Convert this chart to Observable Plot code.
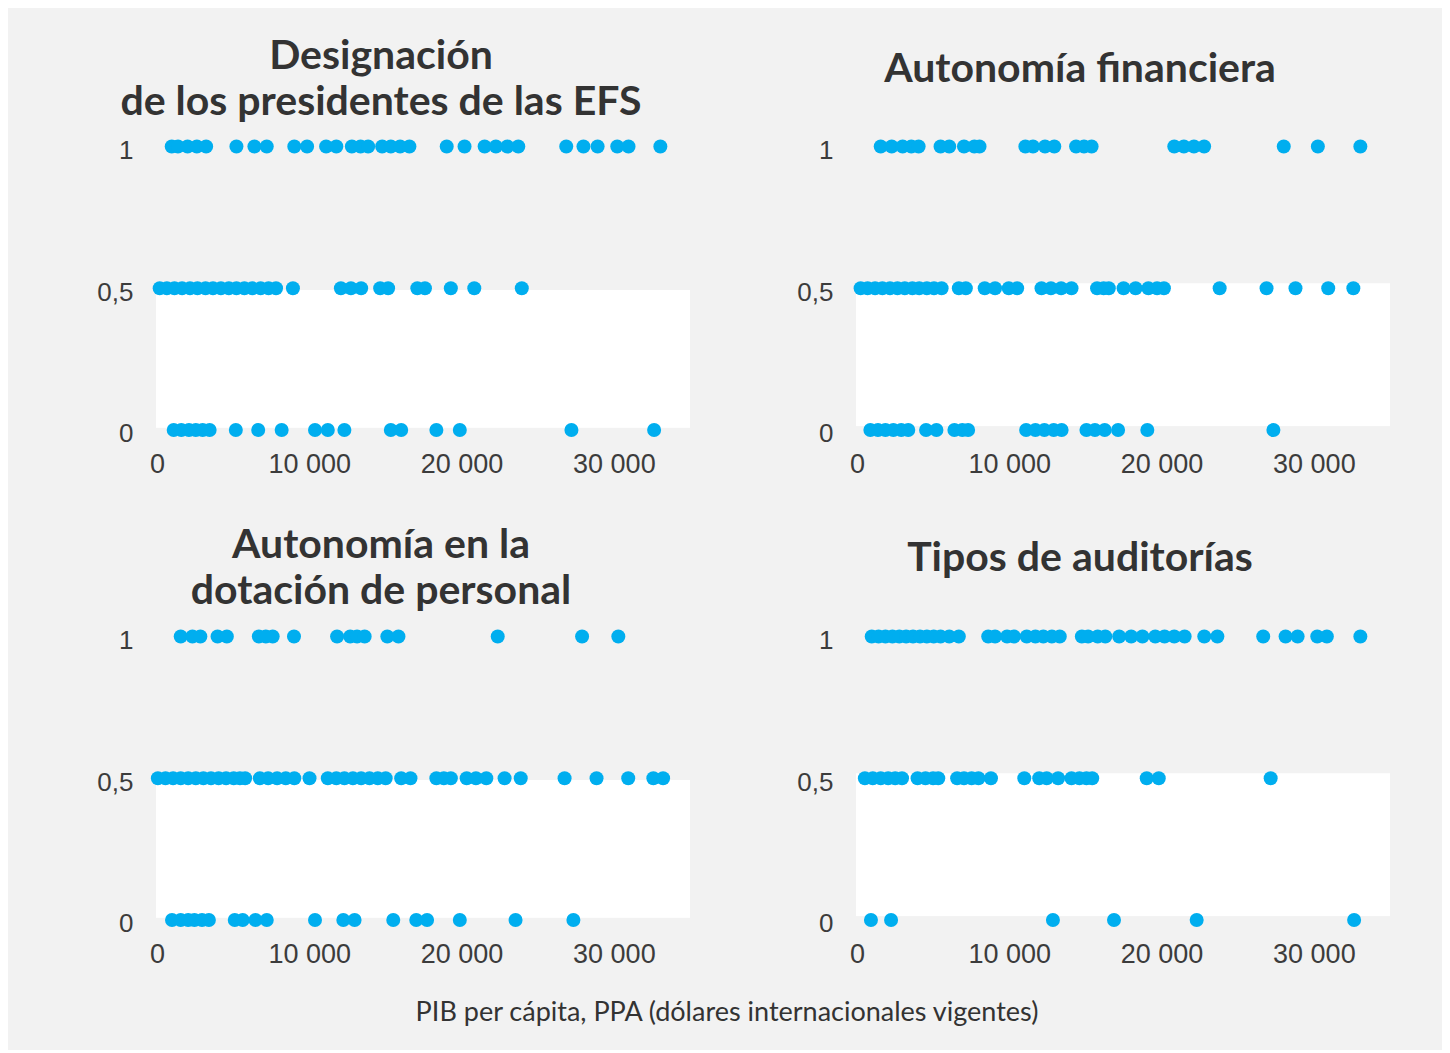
<!DOCTYPE html>
<html>
<head>
<meta charset="utf-8">
<script src="https://cdn.jsdelivr.net/npm/d3@7"></script>
<script src="https://cdn.jsdelivr.net/npm/@observablehq/plot@0.6"></script>
<style>
  html, body { margin: 0; padding: 0; background: #ffffff; }
  #wrap { position: relative; width: 1450px; height: 1053px; background: #ffffff; overflow: hidden; }
  #bg { position: absolute; left: 8px; top: 8px; width: 1434px; height: 1042px; background: #f2f2f2; }
  .panel { position: absolute; width: 700px; height: 490px; }
  .title { position: absolute; font-family: Lato, "Noto Sans", sans-serif; font-weight: 700; font-size: 41px;
           color: #333333; text-align: center; line-height: 46px; white-space: nowrap; transform: translateX(-50%); }
  #xlabel { position: absolute; left: 727px; top: 995px; transform: translateX(-50%); font-family: Lato, "Noto Sans", sans-serif;
            font-size: 27px; line-height: 32px; color: #333333; white-space: nowrap; }
</style>
</head>
<body>
<div id="wrap">
  <div id="bg"></div>
</div>
<script>
// ---------- data (GDP per capita, thousands of int. $) ----------
const panelTitles = [
  "Designación<br>de los presidentes de las EFS",
  "Autonomía financiera",
  "Autonomía en la<br>dotación de personal",
  "Tipos de auditorías"
];
const xAxisLabel = "PIB per cápita, PPA (dólares internacionales vigentes)";
const xTicks = [0, 10000, 20000, 30000];
const yTicks = [0, 0.5, 1];
const yTickLabels = ["0", "0,5", "1"];

// Panel 1: Designación de los presidentes de las EFS
const desig_1 = [0.93,1.34,1.97,2.58,3.19,5.18,6.36,7.17,8.98,9.82,11.07,11.74,12.76,13.33,13.83,14.75,15.32,15.93,16.54,18.99,20.16,21.48,22.22,22.97,23.69,26.84,27.97,28.90,30.19,30.93,33.02];
const desig_05 = [0.14,0.61,1.11,1.61,2.13,2.62,3.15,3.64,4.16,4.68,5.18,5.70,6.22,6.77,7.29,7.78,8.89,12.04,12.70,13.37,14.62,15.14,17.06,17.56,19.26,20.80,23.92];
const desig_0 = [1.06,1.56,2.06,2.51,2.96,3.42,5.14,6.61,8.15,10.34,11.18,12.27,15.32,16.00,18.31,19.85,27.18,32.61];

// Panel 2: Autonomía financiera
const finan_1 = [1.52,2.24,2.96,3.53,4.01,5.45,6.02,6.99,7.67,8.01,11.02,11.52,12.31,12.92,14.35,14.87,15.37,20.80,21.43,22.09,22.76,27.99,30.23,33.02];
const finan_05 = [0.20,0.66,1.15,1.63,2.13,2.62,3.10,3.60,4.05,4.55,5.02,5.52,6.65,7.11,8.35,9.03,9.93,10.48,12.08,12.70,13.37,14.05,15.73,16.16,16.50,17.47,18.26,19.10,19.67,20.12,23.78,26.86,28.76,30.91,32.56];
const finan_0 = [0.84,1.34,1.83,2.35,2.87,3.33,4.50,5.18,6.36,6.88,7.26,11.07,11.68,12.27,12.88,13.40,15.03,15.59,16.23,17.11,19.03,27.31];

// Panel 3: Autonomía en la dotación de personal
const perso_1 = [1.52,2.29,2.81,3.94,4.55,6.65,7.11,7.56,8.96,11.79,12.65,13.10,13.60,15.09,15.82,22.34,27.88,30.26];
const perso_05 = [0.02,0.52,1.02,1.52,2.01,2.51,3.01,3.51,4.01,4.50,5.00,5.41,5.75,6.72,7.26,7.85,8.42,8.98,9.98,11.18,11.74,12.27,12.83,13.37,13.92,14.46,14.98,16.00,16.61,18.31,18.80,19.26,20.30,20.91,21.59,22.79,23.85,26.73,28.83,30.91,32.56,33.20];
const perso_0 = [0.95,1.52,2.01,2.42,2.92,3.37,5.07,5.59,6.43,7.17,10.34,12.20,12.94,15.48,16.99,17.70,19.85,23.51,27.31];

// Panel 4: Tipos de auditorías
const audit_1 = [0.93,1.38,1.83,2.29,2.74,3.19,3.64,4.10,4.55,5.00,5.45,6.02,6.65,8.58,9.03,9.82,10.27,11.11,11.68,12.20,12.76,13.28,14.73,15.14,15.77,16.27,17.18,17.97,18.71,19.55,20.16,20.80,21.48,22.77,23.63,26.64,28.11,28.90,30.19,30.82,33.02];
const audit_05 = [0.48,1.00,1.52,2.01,2.47,2.92,3.94,4.46,4.96,5.30,6.54,6.99,7.49,7.94,8.76,10.95,11.93,12.42,13.17,14.05,14.57,15.03,15.41,18.99,19.78,27.13];
const audit_0 = [0.88,2.20,12.83,16.84,22.27,32.61];

// plot-area (white) band per panel, in y-units
const bandLeft = [{y1: 0.006, y2: 0.492}];
const bandRight = [{y1: 0.012, y2: 0.516}];

// ---------- build ----------
function rows(a1, a05, a0) {
  const out = [];
  a1.forEach(v => out.push({x: v * 1000, y: 1}));
  a05.forEach(v => out.push({x: v * 1000, y: 0.5}));
  a0.forEach(v => out.push({x: v * 1000, y: 0}));
  return out;
}
const panels = [
  {data: rows(desig_1, desig_05, desig_0), band: bandLeft, left: 0, top: 0, tx: 381, ty: 31},
  {data: rows(finan_1, finan_05, finan_0), band: bandRight, left: 700, top: 0, tx: 1080, ty: 44},
  {data: rows(perso_1, perso_05, perso_0), band: bandLeft, left: 0, top: 489.5, tx: 381, ty: 520},
  {data: rows(audit_1, audit_05, audit_0), band: bandRight, left: 700, top: 489.5, tx: 1080, ty: 533}
];

const fmtX = d => d3.format(",")(d).replace(/,/g, " ");
const fmtY = d => yTickLabels[yTicks.indexOf(d)];
const wrap = document.getElementById("wrap");
const H = 480;

panels.forEach((p, i) => {
  const chart = Plot.plot({
    width: 700,
    height: H,
    marginLeft: 156,
    marginRight: 10,
    marginTop: 146,
    marginBottom: H - 429.5,
    style: {background: "transparent", overflow: "visible", fontFamily: "'Liberation Sans', Arial, sans-serif", color: "#3c3c3c"},
    x: {domain: [-70, 35000]},
    y: {domain: [0, 1]},
    marks: [
      Plot.rect(p.band, {y1: "y1", y2: "y2", fill: "#ffffff"}),
      Plot.axisX({ticks: xTicks, tickFormat: fmtX, tickSize: 0, tickPadding: 24, fontSize: 27, label: null, fill: "#3c3c3c"}),
      Plot.axisY({ticks: yTicks, tickFormat: fmtY, tickSize: 0, tickPadding: 23, fontSize: 26, dy: 4, label: null, fill: "#3c3c3c"}),
      Plot.dot(p.data, {x: "x", y: "y", r: 7, fill: "#00aeef", stroke: null})
    ]
  });
  const div = document.createElement("div");
  div.className = "panel";
  div.style.left = p.left + "px";
  div.style.top = p.top + "px";
  div.appendChild(chart);
  wrap.appendChild(div);

  const t = document.createElement("div");
  t.className = "title";
  t.style.left = p.tx + "px";
  t.style.top = p.ty + "px";
  t.innerHTML = panelTitles[i];
  wrap.appendChild(t);
});

const xl = document.createElement("div");
xl.id = "xlabel";
xl.textContent = xAxisLabel;
wrap.appendChild(xl);
</script>
</body>
</html>
